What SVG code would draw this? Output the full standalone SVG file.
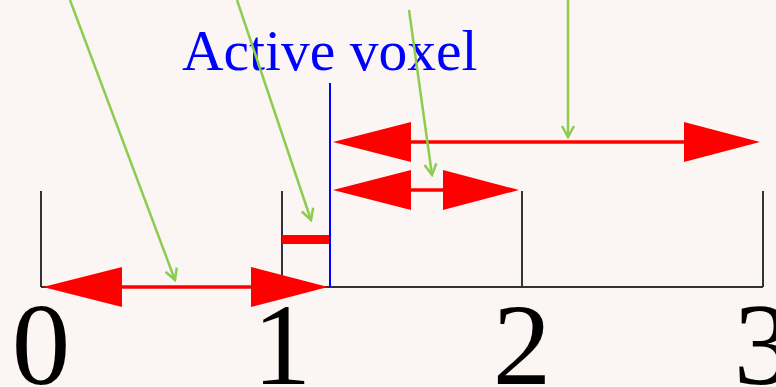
<svg xmlns="http://www.w3.org/2000/svg" width="776" height="387" viewBox="0 0 776 387">
<style>
.axis{stroke:#333;stroke-width:2;fill:none}
.red{stroke:#ff0000;stroke-width:3.5;fill:none}
.head{fill:#ff0000}
.green{stroke:#8dcc4f;stroke-width:2.5;fill:none}
.num{font-family:"Liberation Serif",serif;font-size:117px;fill:#000;text-anchor:middle}
.lbl{font-family:"Liberation Serif",serif;font-size:57.5px;fill:#0000ff}
</style>
<defs>
<marker id="g" viewBox="0 0 14 14" refX="12" refY="7" markerWidth="14" markerHeight="14" markerUnits="userSpaceOnUse" orient="auto">
<path d="M1,1 L12,7 L1,13" fill="none" stroke="#8dcc4f" stroke-width="2.5"/>
</marker>
</defs>
<rect width="776" height="387" fill="#fbf6f4"/>
<g id="axis">
<path class="axis" d="M41,287 H763 M41,191 V287 M282,191 V287 M522,191 V287 M763,191 V287"/>
</g>
<g id="labels">
<text class="num" x="41" y="384">0</text>
<text class="num" x="282" y="384">1</text>
<text class="num" x="522" y="384">2</text>
<text class="num" x="763" y="384">3</text>
</g>
<g id="active-voxel">
<line x1="330" y1="83" x2="330" y2="287" stroke="#0000ff" stroke-width="2"/>
<text class="lbl" x="182" y="70">Active voxel</text>
</g>
<g id="red-bar">
<rect x="282" y="235" width="47" height="9" fill="#ff0000"/>
</g>
<g id="arrow-bottom">
<line class="red" x1="100" y1="287" x2="270" y2="287"/>
<polygon class="head" points="43,287 122,267 122,307"/>
<polygon class="head" points="328,287 251,267 251,307"/>
</g>
<g id="arrow-top">
<line class="red" x1="400" y1="142" x2="700" y2="142"/>
<polygon class="head" points="333,142 411,122 411,162"/>
<polygon class="head" points="760,142 684,122 684,162"/>
</g>
<g id="arrow-mid">
<line class="red" x1="400" y1="190" x2="460" y2="190"/>
<polygon class="head" points="333,190 411,170 411,210"/>
<polygon class="head" points="519,190 443,170 443,210"/>
</g>
<g id="connectors">
<line class="green" x1="70" y1="0" x2="175" y2="280" marker-end="url(#g)"/>
<line class="green" x1="237" y1="0" x2="311" y2="220" marker-end="url(#g)"/>
<line class="green" x1="409" y1="10" x2="432" y2="175" marker-end="url(#g)"/>
<line class="green" x1="568" y1="0" x2="568" y2="137" marker-end="url(#g)"/>
</g>
</svg>
